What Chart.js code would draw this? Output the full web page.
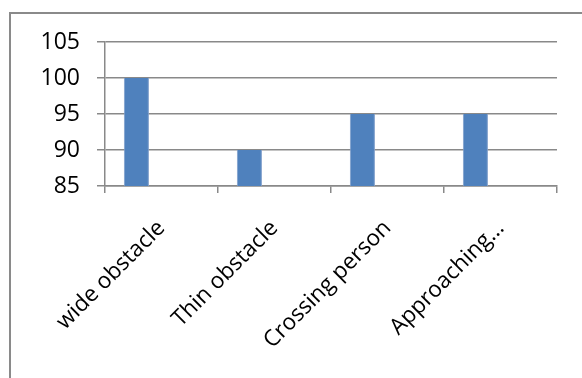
<!DOCTYPE html>
<html>
<head>
<meta charset="utf-8">
<script src="https://cdn.jsdelivr.net/npm/chart.js@4"></script>
<style>
  html, body { margin: 0; padding: 0; background: #fff; }
  #wrap { width: 582px; height: 378px; }
</style>
</head>
<body>
<div id="wrap"><canvas id="obstacleChart" width="582" height="378"></canvas></div>
<script>
// categories and values
const categories = ["wide obstacle", "Thin obstacle", "Crossing person", "Approaching\u2026"];
const series1 = [100, 90, 95, 95];
// two more series sit in the same clusters but have nothing to show
const series2 = [null, null, null, null];
const series3 = [null, null, null, null];

const yMin = 85;
const yMax = 105;
const yStep = 5;

const gridColor = "#898989";
const barColor = "#4F81BD";

// outer chart frame, like the spreadsheet border
const framePlugin = {
  id: "frame",
  beforeDraw(chart) {
    const ctx = chart.ctx;
    ctx.save();
    ctx.strokeStyle = "#8a8a8a";
    ctx.lineWidth = 2;
    ctx.strokeRect(10, 13, 700, 500);
    ctx.restore();
  },
};

Chart.defaults.font.family = "'Open Sans', sans-serif";
Chart.defaults.color = "#000";

const ctx = document.getElementById("obstacleChart").getContext("2d");
const chart = new Chart(ctx, {
  type: "bar",
  data: {
    labels: categories,
    datasets: [
      {
        label: "Series1",
        data: series1,
        backgroundColor: barColor,
        borderColor: "#7f9fcc",
        borderWidth: { left: 1, right: 1, top: 0, bottom: 0 },
      },
      { label: "Series2", data: series2, backgroundColor: "#C0504D" },
      { label: "Series3", data: series3, backgroundColor: "#9BBB59" },
    ],
  },
  options: {
    responsive: false,
    animation: false,
    devicePixelRatio: 1,
    categoryPercentage: 3 / 4.5,
    barPercentage: 1,
    layout: { padding: { top: 42, right: 25, left: 0, bottom: 0 } },
    plugins: {
      legend: { display: false },
      tooltip: { enabled: false },
    },
    scales: {
      x: {
        grid: {
          display: true,
          drawOnChartArea: false,
          drawTicks: true,
          tickLength: 7,
          color: gridColor,
          lineWidth: 1.5,
          offset: true,
        },
        border: { display: true, color: gridColor, width: 1.5 },
        ticks: {
          autoSkip: false,
          minRotation: 45,
          maxRotation: 45,
          padding: 22,
          font: { size: 22.5 },
        },
        afterFit(scale) {
          scale.height = 378 - 186;
        },
      },
      y: {
        min: yMin,
        max: yMax,
        ticks: {
          stepSize: yStep,
          padding: 17,
          font: { size: 23 },
        },
        grid: {
          color: gridColor,
          lineWidth: 1.5,
          tickLength: 8,
        },
        border: { display: true, color: gridColor, width: 1.5 },
        afterFit(scale) {
          scale.width = 105;
        },
      },
    },
  },
  plugins: [framePlugin],
});
</script>
</body>
</html>
